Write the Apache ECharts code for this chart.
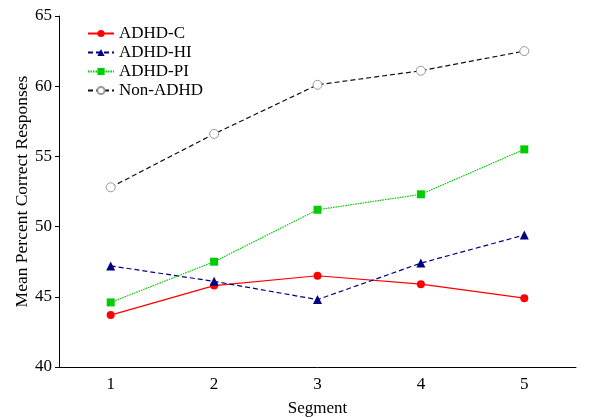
<!DOCTYPE html>
<html><head><meta charset="utf-8">
<script src="https://cdn.jsdelivr.net/npm/echarts@6/dist/echarts.min.js"></script>
<style>html,body{margin:0;padding:0;background:#fff}#c{width:600px;height:418px}</style>
</head><body><div id="c"></div>
<script>
const segments = ['1','2','3','4','5'];
const adhdC = [43.7, 45.8, 46.5, 45.9, 44.9];
const adhdHI = [47.2, 46.1, 44.8, 47.4, 49.4];
const adhdPI = [44.6, 47.5, 51.2, 52.3, 55.5];
const nonADHD = [52.8, 56.6, 60.1, 61.1, 62.5];
const seriesNames = ['ADHD-C','ADHD-HI','ADHD-PI','Non-ADHD'];

const font = 'Liberation Serif, Times New Roman, serif';
const chart = echarts.init(document.getElementById('c'));
chart.setOption({
  animation: false,
  backgroundColor: '#fff',
  grid: {left: 59, right: 24, top: 16, bottom: 51, containLabel: false, outerBoundsMode: 'none'},
  legend: {
    orient: 'vertical', left: 82, top: 20, itemWidth: 26, itemHeight: 9, itemGap: 2,
    textStyle: {fontFamily: font, fontSize: 17, color: '#000'},
    data: seriesNames
  },
  xAxis: {
    type: 'category', data: segments, boundaryGap: true,
    name: 'Segment', nameLocation: 'middle', nameGap: 33, nameMoveOverlap: false,
    nameTextStyle: {fontFamily: font, fontSize: 17, color: '#000'},
    axisLine: {lineStyle: {color: '#000', width: 1}},
    axisTick: {alignWithLabel: true, length: 4, lineStyle: {color: '#000'}},
    axisLabel: {fontFamily: font, fontSize: 17, color: '#000', margin: 9}
  },
  yAxis: {
    type: 'value', min: 40, max: 65, interval: 5,
    name: 'Mean Percent Correct Responses', nameLocation: 'middle', nameGap: 28, nameMoveOverlap: false,
    nameTextStyle: {fontFamily: font, fontSize: 17.5, color: '#000'},
    axisLine: {show: true, lineStyle: {color: '#000', width: 1}},
    axisTick: {show: true, length: 4, lineStyle: {color: '#000'}},
    axisLabel: {fontFamily: font, fontSize: 17, color: '#000', margin: 7},
    splitLine: {show: false}
  },
  series: [
    {name: seriesNames[0], type: 'line', data: adhdC, symbol: 'circle', symbolSize: 8,
     itemStyle: {color: '#ff0000'}, lineStyle: {color: '#ff0000', width: 1.2, type: 'solid'}},
    {name: seriesNames[1], type: 'line', data: adhdHI, symbol: 'triangle', symbolSize: 9,
     itemStyle: {color: '#000080'}, lineStyle: {color: '#000080', width: 1.2, type: [5,3]}},
    {name: seriesNames[2], type: 'line', data: adhdPI, symbol: 'rect', symbolSize: 8,
     itemStyle: {color: '#00cc00'}, lineStyle: {color: '#00cc00', width: 1.2, type: [1.5,1]}},
    {name: seriesNames[3], type: 'line', data: nonADHD, symbol: 'circle', symbolSize: 9,
     itemStyle: {color: '#fff', borderColor: '#999', borderWidth: 1},
     lineStyle: {color: '#111', width: 1.2, type: [5,3]}}
  ]
});
</script></body></html>
